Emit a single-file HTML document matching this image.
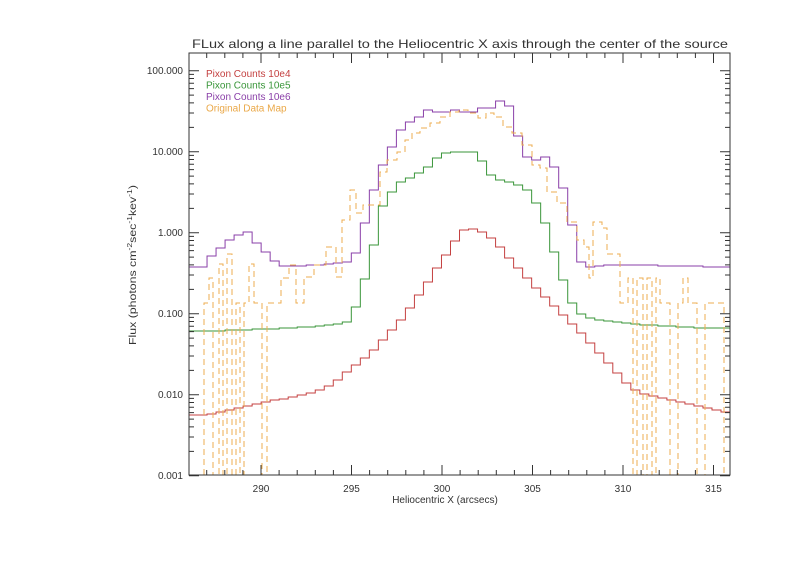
<!DOCTYPE html>
<html><head><meta charset="utf-8"><style>
html,body{margin:0;padding:0;background:#fff;}
svg{display:block;font-family:"Liberation Sans",sans-serif;}
</style></head><body>
<svg id="s" width="800" height="565" viewBox="0 0 800 565" xmlns="http://www.w3.org/2000/svg">
<rect width="800" height="565" fill="#fff"/>
<text x="460" y="48" font-size="12" text-anchor="middle" textLength="536" lengthAdjust="spacingAndGlyphs" fill="#333">FLux along a line parallel to the Heliocentric X axis through the center of the source</text>
<g font-size="10" fill="#333" text-anchor="end">
<text x="183" y="74">100.000</text>
<text x="183" y="155">10.000</text>
<text x="183" y="236">1.000</text>
<text x="183" y="317">0.100</text>
<text x="183" y="398">0.010</text>
<text x="183" y="479">0.001</text>
</g>
<g font-size="10" fill="#333" text-anchor="middle">
<text x="261" y="492">290</text>
<text x="351.5" y="492">295</text>
<text x="442" y="492">300</text>
<text x="532.5" y="492">305</text>
<text x="623" y="492">310</text>
<text x="713.5" y="492">315</text>
<text x="445" y="503">Heliocentric X (arcsecs)</text>
</g>
<text transform="translate(136,265) rotate(-90)" font-size="10" fill="#333" text-anchor="middle" textLength="160" lengthAdjust="spacingAndGlyphs">Flux (photons cm<tspan dy="-4" font-size="7">-2</tspan><tspan dy="4">sec</tspan><tspan dy="-4" font-size="7">-1</tspan><tspan dy="4">kev</tspan><tspan dy="-4" font-size="7">-1</tspan><tspan dy="4">)</tspan></text>
<g font-size="10">
<text x="206" y="77" fill="#c44040">Pixon Counts 10e4</text>
<text x="206" y="88.5" fill="#3a963a">Pixon Counts 10e5</text>
<text x="206" y="100" fill="#8a3fa8">Pixon Counts 10e6</text>
<text x="206" y="111.5" fill="#eaa848">Original Data Map</text>
</g>
<defs><clipPath id="c"><rect x="189" y="53" width="541" height="422"/></clipPath></defs>
<g id="series" clip-path="url(#c)" fill="none" stroke-width="1"></g>
<g id="axes" stroke="#333" stroke-width="1" fill="none"></g>
</svg>
<script>
(function(){
var NS="http://www.w3.org/2000/svg";
function el(p,t,a){var e=document.createElementNS(NS,t);for(var k in a)e.setAttribute(k,a[k]);p.appendChild(e);return e;}
var ax=document.getElementById('axes'),se=document.getElementById('series');
var L=189,R=730,T=53,B=475;
el(ax,'rect',{x:L,y:T,width:R-L,height:B-T});
var d='';
for(var v=287;v<=315;v++){var x=261+(v-290)*18.1;var len=(v%5==0)?10:5;
 d+='M'+x+' '+B+'v-'+len+'M'+x+' '+T+'v'+len;}
var dec=[70.7,151.7,232.7,313.7,394.7,475.7];
for(var i=0;i<dec.length;i++){var y0=dec[i];
 d+='M'+L+' '+y0+'h10M'+R+' '+y0+'h-10';
 for(var k=2;k<=9;k++){var y=y0-81*Math.log10(k);if(y>T&&y<B){d+='M'+L+' '+y+'h5M'+R+' '+y+'h-5';}}}
el(ax,'path',{d:d});
function steps(arr){var p='';for(var i=0;i<arr.length;i++){var x0=L+i*9.017,x1=x0+9.017;p+=(i==0?'M':'L')+x0+' '+arr[i]+'L'+x1+' '+arr[i];}return p;}
var red=[415,415,414,412,410,408,406,404,402,400,399,397,395,393,390,386,380,372,365,358,350,340,330,320,308,295,282,268,255,241,230,229,232,238,247,258,268,278,288,297,306,315,324,333,343,353,363,373,383,390,394,396,398,400,402,404,406,408,410,412];
var green=[331,331,331,331,330,330,330,329,329,329,328,328,327,327,326,325,324,322,307,279,245,206,192,182,178,173,167,158,153,152,152,152,161,175,180,182,185,190,203,223,252,280,303,314,318,320,321,322,323,324,325,325,326,326,327,327,328,328,328,328];
var purple=[267,267,256,248,240,235,232,243,252,261,266,266,266,265,265,264,263,262,253,223,190,165,147,130,122,117,110,112,112,110,112,112,108,108,101,106,136,157,160,157,167,188,225,262,267,266,265,265,265,265,265,265,266,266,266,266,266,267,267,267];
el(se,'path',{d:steps(red),stroke:'#c44040'});
el(se,'path',{d:steps(green),stroke:'#3a963a'});
el(se,'path',{d:steps(purple),stroke:'#8a3fa8'});
var o=[[189,480],[204,303],[209,278],[213,480],[219,264],[223,480],[227,254],[232,480],[236,303],[240,480],[244,303],[249,264],[254,303],[262,480],[267,303],[281,278],[289,265],[296,303],[304,277],[314,265],[326,247],[336,277],[342,220],[350,190],[356,213],[363,205],[380,172],[387,160],[397,152],[405,140],[412,133],[420,128],[430,123],[440,117],[450,112],[459,110],[468,113],[478,118],[486,113],[494,117],[503,127],[512,133],[522,145],[532,165],[540,168],[547,192],[557,203],[567,222],[577,240],[584,247],[589,278],[593,222],[602,228],[607,254],[620,303],[628,278],[633,480],[637,278],[643,480],[647,278],[652,480],[656,278],[660,303],[670,480],[678,303],[683,278],[688,303],[697,480],[705,303],[724,480]];
var p='';for(var i=0;i<o.length;i++){var x1=(i+1<o.length)?o[i+1][0]:731;p+=(i==0?'M':'L')+o[i][0]+' '+o[i][1]+'L'+x1+' '+o[i][1];}
el(se,'path',{d:p,stroke:'#eeae50','stroke-dasharray':'6,4'});
})();
</script>
</body></html>
